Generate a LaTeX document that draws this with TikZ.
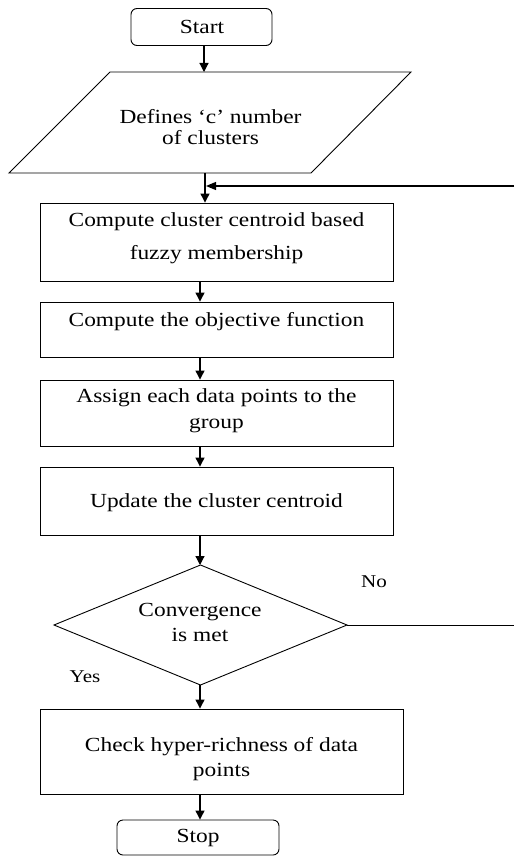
\documentclass[tikz,border=0pt]{standalone}
\usepackage{fontspec}
\setmainfont{Liberation Serif}[FakeStretch=1.17]
\usetikzlibrary{arrows.meta}
\begin{document}
\begin{tikzpicture}[x=1pt,y=-1pt,
  box/.style={draw, line width=0.9pt, inner sep=0pt, minimum width=353pt},
  term/.style={draw, rounded corners=6pt, line width=0.9pt, inner sep=0pt},
  txt/.style={align=center, inner sep=0pt, font=\fontsize{20}{#1}\selectfont},
  txt/.default=25,
  lbl/.style={inner sep=0pt, font=\fontsize{18}{20}\selectfont},
  arr/.style={line width=1.2pt, -{Triangle[length=9pt,width=9pt]}},
  ln/.style={line width=0.9pt}]
\useasboundingbox (0,0) rectangle (514,861);

% helper coordinates
\coordinate (ax) at (200,0);
\coordinate (fbR) at (514,186);

% Start
\node[term, minimum width=141pt, minimum height=37pt] (start) at (201.5,27) {};
\node[txt] (starttxt) at (202,27) {Start};

% Parallelogram
\draw[ln] (110,72) -- (411,72) -- (311,173) -- (9,173) -- cycle;
\coordinate (ptop) at (204,72);
\coordinate (pbot) at (205,173);
\node[txt=20.5] (deftxt) at (210.5,127) {Defines ‘c’ number\\of clusters};

% Boxes
\node[box, minimum height=78pt] (b1) at (216.5,242) {};
\node[txt=33] (b1txt) at (216.5,238.5) {Compute cluster centroid based\\fuzzy membership};

\node[box, minimum height=55pt] (b2) at (216.5,329.5) {};
\node[txt] (b2txt) at (216.5,322) {Compute the objective function};

\node[box, minimum height=66pt] (b3) at (216.5,413) {};
\node[txt=26] (b3txt) at (216.5,411) {Assign each data points to the\\group};

\node[box, minimum height=68pt] (b4) at (216.5,501) {};
\node[txt] (b4txt) at (216.5,503) {Update the cluster centroid};

% Diamond
\draw[ln] (200.5,565) -- (347,625) -- (200.5,685) -- (54,625) -- cycle;
\coordinate (dtop) at (200.5,565);
\coordinate (dright) at (347,625);
\coordinate (dbot) at (200.5,685);
\node[txt] (dtxt) at (200,622.5) {Convergence\\is met};

\node[box, minimum width=363pt, minimum height=85pt] (b5) at (221.5,751.5) {};
\node[txt] (b5txt) at (221.5,759.5) {Check hyper-richness of data\\points};

\node[term, minimum width=162pt, minimum height=35pt] (stop) at (198,837.5) {};
\node[txt] (stoptxt) at (198,837.5) {Stop};

% Labels
\node[lbl] (no) at (374,582) {No};
\node[lbl] (yes) at (85,677) {Yes};

% Connectors
\draw[arr] (start.south -| ptop) -- (ptop);
\draw[arr] (pbot) -- (pbot |- b1.north);
\draw[line width=1.2pt, -{Triangle[length=10pt,width=8pt]}, shorten >=1pt] (fbR) -- (fbR -| pbot);
\draw[arr] (b1.south -| ax) -- (b2.north -| ax);
\draw[arr] (b2.south -| ax) -- (b3.north -| ax);
\draw[arr] (b3.south -| ax) -- (b4.north -| ax);
\draw[arr] (b4.south -| ax) -- (dtop -| ax);
\draw[ln] (dright) -- (dright -| fbR);
\draw[arr] (dbot -| ax) -- (b5.north -| ax);
\draw[arr] (b5.south -| ax) -- (stop.north -| ax);
\end{tikzpicture}
\end{document}
